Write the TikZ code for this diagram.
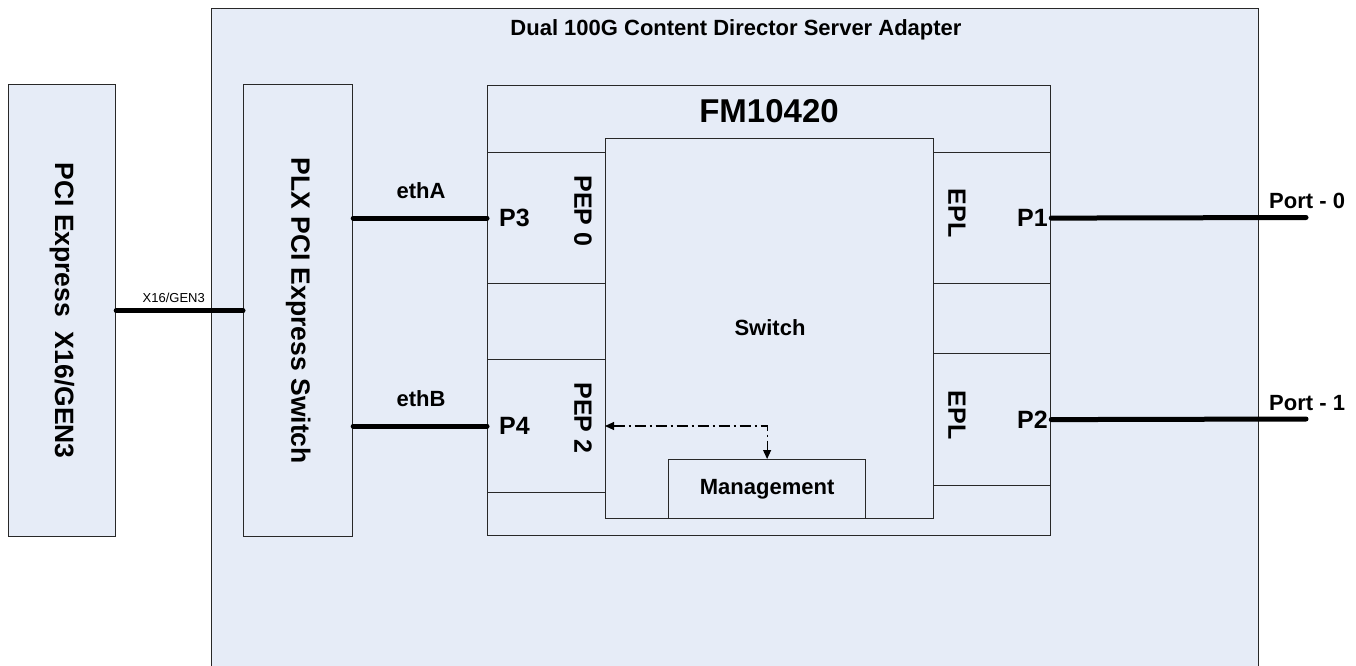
\documentclass[tikz,border=0pt]{standalone}
\usepackage{fontspec}
\setmainfont{Liberation Sans}
\usetikzlibrary{arrows.meta}
\definecolor{boxfill}{RGB}{230,236,247}
\definecolor{edge}{RGB}{40,40,40}
\tikzset{
  box/.style={draw=edge, line width=1.2pt, fill=boxfill, inner sep=0pt, anchor=north west},
  lbl/.style={font=\bfseries\fontsize{#1}{#1}\selectfont, inner sep=0pt},
  rlbl/.style={font=\fontsize{#1}{#1}\selectfont, inner sep=0pt},
  link/.style={line width=5pt, line cap=round},
  mgmtlink/.style={line width=1.1pt, draw=black, dash pattern=on 11pt off 4pt on 2pt off 4pt,
    {Triangle[length=9pt,width=8pt]}-{Triangle[length=9pt,width=8pt]}},
}
\begin{document}
\begin{tikzpicture}[x=1pt,y=-1pt]
\useasboundingbox (0,0) rectangle (1356,665);
\begin{scope}
\clip (0,0) rectangle (1356,665);
% boxes
\node[box, minimum width=1047pt, minimum height=700pt] (outer) at (211,8) {};
\node[box, minimum width=107pt, minimum height=452pt] (pci) at (8,84) {};
\node[box, minimum width=109pt, minimum height=452pt] (plx) at (243,84) {};
\node[box, minimum width=563pt, minimum height=450pt] (fm) at (487,85) {};
\node[box, minimum width=118pt, minimum height=131pt] (pep0) at (487,152) {};
\node[box, minimum width=118pt, minimum height=133pt] (pep2) at (487,359) {};
\node[box, minimum width=117pt, minimum height=131pt] (epl1) at (933,152) {};
\node[box, minimum width=117pt, minimum height=132pt] (epl2) at (933,353) {};
\node[box, minimum width=328pt, minimum height=380pt] (sw) at (605,138) {};
\node[box, minimum width=197pt, minimum height=59pt] (mgmt) at (668,459) {};

% texts
\node[lbl=22] (title) at (736,30) {Dual 100G Content Director Server Adapter};
\node[lbl=26.5, rotate=-90] (pcit) at (pci.center) {PCI Express\ \ X16/GEN3};
\node[lbl=26.5, rotate=-90] (plxt) at (plx.center) {PLX PCI Express Switch};
\node[lbl=33] (fmt) at (769,111) {FM10420};
\node[lbl=22] (swt) at (770,328) {Switch};
\node[lbl=22] (mgt) at (mgmt.center) {Management};
\node[lbl=25, anchor=base west] (p3) at (499,226) {P3};
\node[lbl=25, anchor=base west] (p4) at (499,434) {P4};
\node[lbl=25, anchor=base east] (p1) at (1048,226) {P1};
\node[lbl=25, anchor=base east] (p2) at (1048,428) {P2};
\node[lbl=25, rotate=-90] (pep0t) at (583,211) {PEP 0};
\node[lbl=25, rotate=-90] (pep2t) at (583,418) {PEP 2};
\node[lbl=25, rotate=-90] (epl1t) at (957,213) {EPL};
\node[lbl=25, rotate=-90] (epl2t) at (957,415) {EPL};
\node[lbl=22, anchor=base] (etha) at (421,198) {ethA};
\node[lbl=22, anchor=base] (ethb) at (421,406) {ethB};
\node[lbl=22, anchor=base west] (port0) at (1269,208) {Port - 0};
\node[lbl=22, anchor=base west] (port1) at (1269,410) {Port - 1};
\node[rlbl=13, anchor=base east] (x16) at (205,302) {X16/GEN3};

% connectors
\coordinate (p0end) at (1306,217.5);
\coordinate (p1end) at (1306,419);
\coordinate (pepin) at (605,426);
\draw[link] (pci.east) -- (plx.west);
\draw[link] (pep0.west -| plx.east) -- (pep0.west);
\draw[link] (pep2.west -| plx.east) -- (pep2.west);
\draw[link] (epl1.east) -- (p0end);
\draw[link] (epl2.east) -- (p1end);
\draw[mgmtlink] (pepin) -| (mgmt.north);
\end{scope}
\end{tikzpicture}
\end{document}
